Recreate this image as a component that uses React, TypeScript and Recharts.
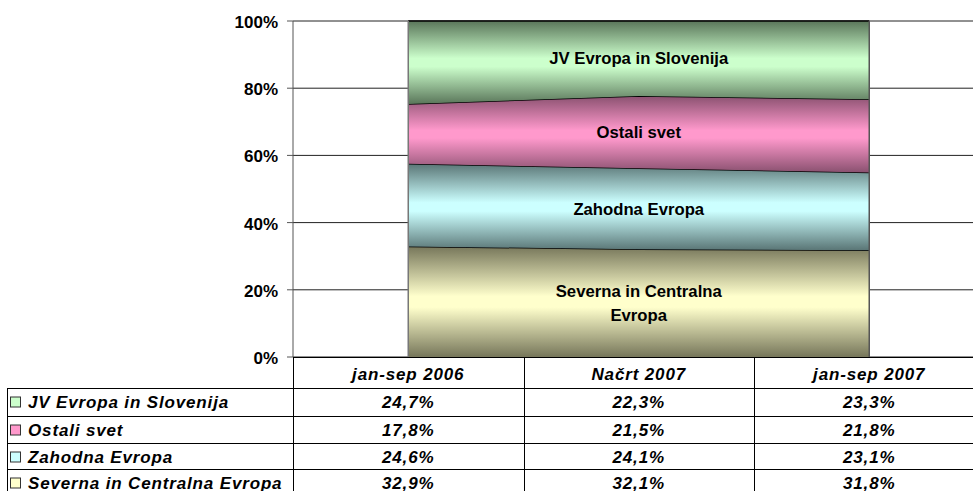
import React from 'react';
import { AreaChart, Area, XAxis, YAxis, CartesianGrid, ReferenceLine, ReferenceDot } from 'recharts';

const categories = ['jan-sep 2006', 'Načrt 2007', 'jan-sep 2007'];
const seriesNames = ['JV Evropa in Slovenija', 'Ostali svet', 'Zahodna Evropa', 'Severna in Centralna Evropa'];
const jvEvropa = [24.7, 22.3, 23.3];
const ostaliSvet = [17.8, 21.5, 21.8];
const zahodnaEvropa = [24.6, 24.1, 23.1];
const severnaEvropa = [32.9, 32.1, 31.8];
const yTicks = [0, 20, 40, 60, 80, 100];
const bandLabels = [['JV Evropa in Slovenija'], ['Ostali svet'], ['Zahodna Evropa'], ['Severna in Centralna', 'Evropa']];

const FONT = '"Liberation Sans", Arial, sans-serif';
const W = 973;
const H = 491;
const PLOT_LEFT = 293;
const PLOT_TOP = 21;
const PLOT_BOTTOM = 357;
const BAND = 230.5; // px per category

// top to bottom order, same as seriesNames
const keys = ['jv', 'ost', 'zah', 'sev'];
const values = [jvEvropa, ostaliSvet, zahodnaEvropa, severnaEvropa];
const light = ['#CCFFCC', '#FF99CC', '#CCFFFF', '#FFFFCC'];
const dark = ['#5A765A', '#8A5170', '#5A7676', '#76765A'];

const data = categories.map((name, i) => ({
  idx: i,
  name,
  sev: severnaEvropa[i],
  zah: zahodnaEvropa[i],
  ost: ostaliSvet[i],
  jv: jvEvropa[i],
}));

// middle of each band at the middle category
const labelCat = 1;
const bandMids = (() => {
  const out: number[] = [];
  let base = 0;
  for (let s = values.length - 1; s >= 0; s--) {
    out[s] = base + values[s][labelCat] / 2;
    base += values[s][labelCat];
  }
  return out;
})();

const fmt = (v: number) => v.toFixed(1).replace('.', ',') + '%';

const bandLabel = (lines: string[]) => (props: any) => {
  const vb = props.viewBox || {};
  const cx = (vb.x ?? 0) + (vb.width ?? 0) / 2;
  const cy = (vb.y ?? 0) + (vb.height ?? 0) / 2;
  const lh = 24;
  return (
    <text
      x={cx}
      y={cy - ((lines.length - 1) * lh) / 2}
      textAnchor="middle"
      dominantBaseline="central"
      fontFamily={FONT}
      fontWeight="bold"
      fontSize={16.7}
      fill="#000"
    >
      {lines.map((l, i) => (
        <tspan key={i} x={cx} dy={i === 0 ? 0 : lh}>
          {l}
        </tspan>
      ))}
    </text>
  );
};

function DataTable() {
  const headerTop = PLOT_BOTTOM;
  const rowTops = [388, 416, 443, 469];
  const rowH = 27;
  const colEdges = categories.map((_, i) => PLOT_LEFT + i * BAND);
  const textStyle = {
    fontFamily: FONT,
    fontWeight: 'bold' as const,
    fontStyle: 'italic' as const,
    fontSize: 17,
    letterSpacing: 0.85,
  };
  return (
    <svg width={W} height={H - headerTop} style={{ position: 'absolute', left: 0, top: headerTop }}>
      <g stroke="#000" strokeWidth={1}>
        <line x1={PLOT_LEFT} x2={W} y1={0.5} y2={0.5} />
        {rowTops.map((y, i) => (
          <line key={i} x1={7} x2={W} y1={y - headerTop + 0.5} y2={y - headerTop + 0.5} />
        ))}
        {colEdges.map((x, i) => (
          <line key={i} x1={Math.round(x) + 0.5} x2={Math.round(x) + 0.5} y1={0} y2={H} />
        ))}
        <line x1={7.5} x2={7.5} y1={rowTops[0] - headerTop} y2={H} />
      </g>
      {categories.map((c, i) => (
        <text
          key={c}
          x={PLOT_LEFT + (i + 0.5) * BAND}
          y={374 - headerTop}
          textAnchor="middle"
          dominantBaseline="central"
          style={textStyle}
        >
          {c}
        </text>
      ))}
      {seriesNames.map((s, r) => {
        const cy = rowTops[r] + rowH / 2 + 1 - headerTop;
        return (
          <g key={s}>
            <rect x={10.5} y={cy - 5.5} width={10} height={10} fill={light[r]} stroke="#333" strokeWidth={1} />
            <text x={28} y={cy} dominantBaseline="central" style={textStyle}>
              {s}
            </text>
            {values[r].map((v, i) => (
              <text
                key={i}
                x={PLOT_LEFT + (i + 0.5) * BAND}
                y={cy}
                textAnchor="middle"
                dominantBaseline="central"
                style={textStyle}
              >
                {fmt(v)}
              </text>
            ))}
          </g>
        );
      })}
    </svg>
  );
}

export default function App() {
  const xMax = (W - PLOT_LEFT) / BAND - 0.5;
  const stackOrder = [3, 2, 1, 0]; // bottom first
  return (
    <div style={{ position: 'absolute', left: 0, top: 0, width: W, height: H, overflow: 'hidden', background: '#fff' }}>
      <AreaChart
        width={W}
        height={PLOT_BOTTOM + 20}
        data={data}
        margin={{ top: PLOT_TOP, right: 0, bottom: 20, left: 0 }}
      >
        <defs>
          {keys.map((k, s) => (
            <linearGradient key={k} id={`grad-${k}`} x1="0" y1="0" x2="0" y2="1">
              <stop offset="0%" stopColor={dark[s]} />
              <stop offset="45%" stopColor={light[s]} />
              <stop offset="55%" stopColor={light[s]} />
              <stop offset="100%" stopColor={dark[s]} />
            </linearGradient>
          ))}
        </defs>
        <CartesianGrid vertical={false} stroke="#222" strokeWidth={1} />
        <XAxis
          dataKey="idx"
          type="number"
          domain={[-0.5, xMax]}
          allowDataOverflow
          hide
        />
        <YAxis
          width={PLOT_LEFT}
          domain={[0, 100]}
          ticks={yTicks}
          tickFormatter={(v: number) => `${v}%`}
          tick={{ fill: '#000', fontSize: 17, fontWeight: 'bold', fontFamily: FONT, dy: 1 }}
          tickSize={6}
          tickMargin={9}
          axisLine={{ stroke: '#555' }}
          tickLine={{ stroke: '#555' }}
        />
        {stackOrder.map((s) => (
          <Area
            key={keys[s]}
            type="linear"
            dataKey={keys[s]}
            stackId="1"
            stroke="#000"
            strokeWidth={1.5}
            fill={`url(#grad-${keys[s]})`}
            fillOpacity={1}
            isAnimationActive={false}
            dot={false}
            activeDot={false}
          />
        ))}
        <ReferenceLine x={0} stroke="#777" strokeWidth={1.5} />
        <ReferenceLine x={categories.length - 1} stroke="#555" strokeWidth={1.5} />
        {bandMids.map((m, s) => (
          <ReferenceDot
            key={keys[s]}
            x={labelCat}
            y={m}
            r={0}
            fill="none"
            stroke="none"
            label={bandLabel(bandLabels[s])}
          />
        ))}
      </AreaChart>
      <DataTable />
    </div>
  );
}
